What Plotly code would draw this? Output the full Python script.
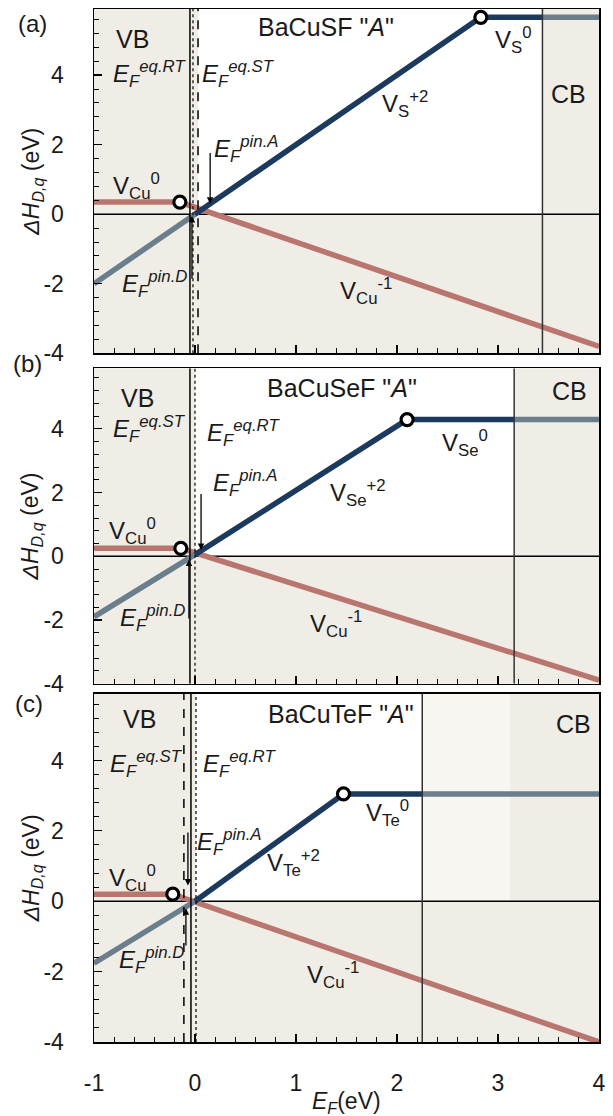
import plotly.graph_objects as go

# ---------------- data ----------------
panels = ["(a)", "(b)", "(c)"]
compounds = ['BaCuSF "<i>A</i>"', 'BaCuSeF "<i>A</i>"', 'BaCuTeF "<i>A</i>"']
anion = ["S", "Se", "Te"]

cbm = [3.44, 3.16, 2.25]                 # conduction band minimum (eV)
cb_light_end = [None, None, 3.12]        # lighter band region (panel c)
ef_solid = [-0.05, -0.05, -0.04]         # solid Fermi-level lines
ef_dashed = [0.03, None, -0.11]          # dashed Fermi-level lines
ef_dotted = [-0.02, 0.0, 0.01]           # dotted lines
white_start = [0.03, 0.0, 0.01]

cu0_level = [0.35, 0.25, 0.2]            # V_Cu^0 formation energy
cu_trans_x = [-0.15, -0.14, -0.22]       # V_Cu (0/-1) transition
cu_m1_end = [-3.8, -3.89, -4.0]          # V_Cu^-1 at E_F = 4 eV

an_vb_start = [-2.0, -1.9, -1.76]        # anion vacancy at E_F=-1
an_at_vbm = [0.0, 0.05, 0.0]             # anion vacancy at E_F=0
an_trans_x = [2.83, 2.10, 1.47]          # anion (+2/0) transition
an0_level = [5.66, 4.29, 3.05]           # anion vacancy neutral level

pinA = [(0.15, 1.8, 0.3), (0.06, 2.0, 0.2), (-0.07, 2.0, 0.45)]   # x, from y, to y
pinD = [(-0.03, -1.9, -0.05), (-0.06, -2.0, -0.1), (-0.09, -1.3, -0.2)]
eq_left = ["eq.RT", "eq.ST", "eq.ST"]
eq_right = ["eq.ST", "eq.RT", "eq.RT"]

x_ticks = [-1, 0, 1, 2, 3, 4]
y_ticks = [-4, -2, 0, 2, 4]
x_range = [-1, 4]
y_range = [-4, 5.9]

# ---------------- style ----------------
W, H = 613, 1116
L, R = 94, 603
TOP = [7, 367, 693]
BOT = [352, 683, 1042]
beige = "#efede5"
light = "#f7f6f1"
red = "#b8766f"
navy = "#1c3a5e"
grayblue = "#6a7e8c"
txt = "#1a1a1a"
FONT = "Liberation Sans, Arial, sans-serif"
LW = 5.5


def px(xp):
    return (xp - L) / (R - L)


def py(yp):
    return (BOT[2] - yp) / (BOT[2] - TOP[0])


fig = go.Figure()
shapes = []
annotations = []

for i in range(3):
    xa = "x" if i == 0 else f"x{i+1}"
    ya = "y" if i == 0 else f"y{i+1}"
    common = dict(xaxis=xa, yaxis=ya, showlegend=False, hoverinfo="skip", cliponaxis=False)
    # V_Cu
    fig.add_trace(go.Scatter(x=[x_range[0], cu_trans_x[i]], y=[cu0_level[i], cu0_level[i]],
                             mode="lines", line=dict(color=red, width=LW), **common))
    fig.add_trace(go.Scatter(x=[cu_trans_x[i], x_range[1]], y=[cu0_level[i], cu_m1_end[i]],
                             mode="lines", line=dict(color=red, width=LW), **common))
    # anion vacancy
    fig.add_trace(go.Scatter(x=[x_range[0], 0], y=[an_vb_start[i], an_at_vbm[i]],
                             mode="lines", line=dict(color=grayblue, width=LW), **common))
    fig.add_trace(go.Scatter(x=[0, an_trans_x[i], cbm[i]], y=[an_at_vbm[i], an0_level[i], an0_level[i]],
                             mode="lines", line=dict(color=navy, width=LW), **common))
    fig.add_trace(go.Scatter(x=[cbm[i], x_range[1]], y=[an0_level[i], an0_level[i]],
                             mode="lines", line=dict(color=grayblue, width=LW), **common))
    # transition circles
    fig.add_trace(go.Scatter(x=[cu_trans_x[i], an_trans_x[i]], y=[cu0_level[i], an0_level[i]],
                             mode="markers",
                             marker=dict(size=12, color="white", line=dict(color="black", width=3.2)),
                             **common))

    xr = xa
    yr = ya
    # white gap region
    shapes.append(dict(type="rect", xref=xr, yref=yr, x0=white_start[i], x1=cbm[i], y0=0, y1=y_range[1],
                       fillcolor="white", line=dict(width=0), layer="below"))
    if cb_light_end[i] is not None:
        shapes.append(dict(type="rect", xref=xr, yref=yr, x0=cbm[i], x1=cb_light_end[i], y0=0, y1=y_range[1],
                           fillcolor=light, line=dict(width=0), layer="below"))
    # zero line
    shapes.append(dict(type="line", xref=xr, yref=yr, x0=x_range[0], x1=x_range[1], y0=0, y1=0,
                       line=dict(color="black", width=1.5), layer="below"))
    # CB line
    shapes.append(dict(type="line", xref=xr, yref=yr, x0=cbm[i], x1=cbm[i], y0=y_range[0], y1=y_range[1],
                       line=dict(color="#333333", width=1.5), layer="above"))
    # Fermi-level lines
    shapes.append(dict(type="line", xref=xr, yref=yr, x0=ef_solid[i], x1=ef_solid[i], y0=y_range[0], y1=y_range[1],
                       line=dict(color="black", width=1.5), layer="above"))
    shapes.append(dict(type="line", xref=xr, yref=yr, x0=ef_dotted[i], x1=ef_dotted[i], y0=y_range[0], y1=y_range[1],
                       line=dict(color="black", width=1.2, dash="dot"), layer="above"))
    if ef_dashed[i] is not None:
        shapes.append(dict(type="line", xref=xr, yref=yr, x0=ef_dashed[i], x1=ef_dashed[i], y0=y_range[0], y1=y_range[1],
                           line=dict(color="black", width=1.5, dash="dash"), layer="above"))
    # pinning arrows
    for (ax_, y_from, y_to) in (pinA[i], pinD[i]):
        annotations.append(dict(x=ax_, y=y_to, ax=ax_, ay=y_from, xref=xr, yref=yr, axref=xr, ayref=yr,
                                showarrow=True, arrowhead=2, arrowsize=1, arrowwidth=1.3,
                                arrowcolor="black", text=""))

    # axes
    dom = [(BOT[2] - BOT[i]) / (BOT[2] - TOP[0]), (BOT[2] - TOP[i]) / (BOT[2] - TOP[0])]
    xkey = "xaxis" if i == 0 else f"xaxis{i+1}"
    ykey = "yaxis" if i == 0 else f"yaxis{i+1}"
    fig.layout[xkey] = dict(range=x_range, domain=[0, 1], anchor=ya, tickmode="array", tickvals=x_ticks,
                            ticktext=[str(v) for v in x_ticks], showticklabels=(i == 2),
                            ticks="inside", ticklen=8, tickwidth=1.2, tickcolor="black",
                            minor=dict(dtick=0.2, tick0=0, ticks="inside", ticklen=5, tickwidth=1, tickcolor="black"),
                            showline=True, mirror=True, linecolor="black", linewidth=1.5,
                            showgrid=False, zeroline=False, ticklabelstandoff=20,
                            tickfont=dict(size=23, color=txt, family=FONT))
    fig.layout[ykey] = dict(range=y_range, domain=dom, anchor=xa, tickmode="array", tickvals=y_ticks,
                            ticktext=[str(v) for v in y_ticks],
                            ticks="inside", ticklen=8, tickwidth=1.2, tickcolor="black",
                            minor=dict(dtick=0.4, tick0=0, ticks="inside", ticklen=5, tickwidth=1, tickcolor="black"),
                            showline=True, mirror=True, linecolor="black", linewidth=1.5,
                            showgrid=False, zeroline=False, ticklabelstandoff=24,
                            tickfont=dict(size=23, color=txt, family=FONT))


def ann(text, xp, yp, size=24, angle=0, xanchor="center"):
    annotations.append(dict(text=text, x=px(xp), y=py(yp), xref="paper", yref="paper", showarrow=False,
                            xanchor=xanchor, yanchor="middle", textangle=angle,
                            font=dict(size=size, color=txt, family=FONT)))


def ef(sup):
    return f"<i>E</i><sub><i>F</i></sub><sup><i>{sup}</i></sup>"


def vac(sp, q):
    return f"V<sub>{sp}</sub><sup>{q}</sup>"


# panel (a)
ann("(a)", 32, 22)
ann("VB", 133, 37, 25)
ann(ef(eq_left[0]), 150, 72)
ann(ef(eq_right[0]), 240, 72)
ann(compounds[0], 328, 25, 25)
ann(vac(anion[0], "0"), 517, 38)
ann(vac(anion[0], "+2"), 407, 102)
ann("CB", 572, 92, 25)
ann(ef("pin.A"), 248, 147)
ann(vac("Cu", "0"), 137, 184)
ann(ef("pin.D"), 155, 283)
ann(vac("Cu", "-1"), 368, 290)

# panel (b)
ann("(b)", 27, 362)
ann("VB", 138, 397, 25)
ann(ef(eq_left[1]), 150, 428)
ann(ef(eq_right[1]), 245, 432)
ann(compounds[1], 344, 387, 25)
ann(vac(anion[1], "0"), 468, 442)
ann(vac(anion[1], "+2"), 360, 492)
ann("CB", 573, 390, 25)
ann(ef("pin.A"), 247, 482)
ann(vac("Cu", "0"), 133, 530)
ann(ef("pin.D"), 153, 617)
ann(vac("Cu", "-1"), 338, 623)

# panel (c)
ann("(c)", 28, 703)
ann("VB", 140, 718, 25)
ann(ef(eq_left[2]), 147, 763)
ann(ef(eq_right[2]), 241, 763)
ann(compounds[2], 343, 713, 25)
ann(vac(anion[2], "0"), 390, 813)
ann(vac(anion[2], "+2"), 295, 863)
ann("CB", 577, 723, 25)
ann(ef("pin.A"), 231, 842)
ann(vac("Cu", "0"), 133, 878)
ann(ef("pin.D"), 152, 960)
ann(vac("Cu", "-1"), 335, 975)

# axis titles
ytitle = "<i>ΔH</i><sub><i>D,q</i></sub> (eV)"
for i in range(3):
    ann(ytitle, 32, (TOP[i] + BOT[i]) / 2, 23, angle=-90)
ann("<i>E</i><sub><i>F</i></sub>(eV)", 348, 1103, 23)

fig.update_layout(width=W, height=H, margin=dict(l=L, r=W - R, t=TOP[0], b=H - BOT[2]),
                  paper_bgcolor="white", plot_bgcolor=beige, shapes=shapes, annotations=annotations,
                  font=dict(family=FONT, color=txt), showlegend=False)

fig.write_html("out.html", config={"displayModeBar": False, "staticPlot": True},
               post_script="document.body.style.margin='0px';document.body.style.overflow='hidden';")
